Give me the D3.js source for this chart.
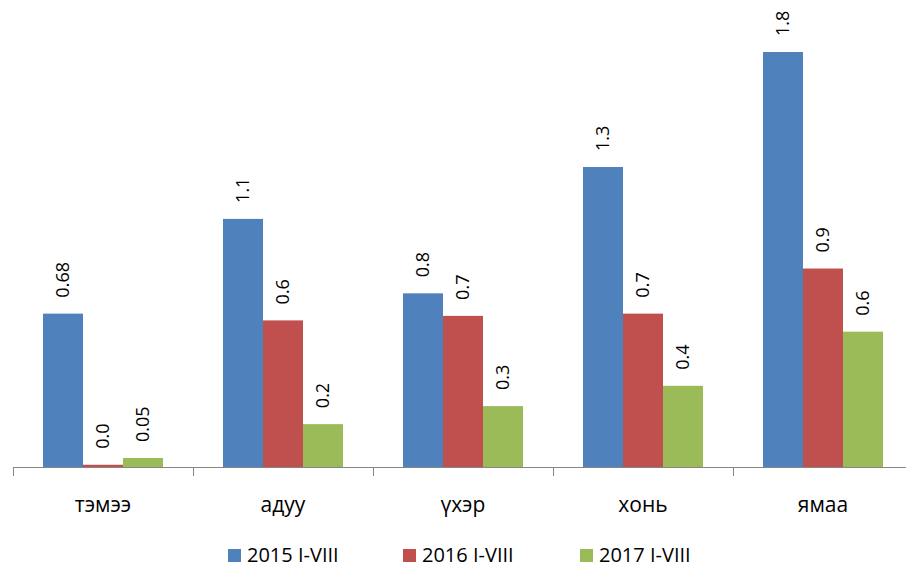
<!DOCTYPE html>
<html>
<head>
<meta charset="utf-8">
<script src="https://cdn.jsdelivr.net/npm/d3@7"></script>
<style>
  body { margin: 0; background: #fff; }
  text { font-family: "Open Sans", "Noto Sans", sans-serif; fill: #000; }
</style>
</head>
<body>
<script>
// data
var categories = ["тэмээ", "адуу", "үхэр", "хонь", "ямаа"];
var seriesNames = ["2015 I-VIII", "2016 I-VIII", "2017 I-VIII"];
var values2015 = [0.68, 1.10, 0.77, 1.33, 1.84];
var values2016 = [0.01, 0.65, 0.67, 0.68, 0.88];
var values2017 = [0.04, 0.19, 0.27, 0.36, 0.60];
var labels2015 = ["0.68", "1.1", "0.8", "1.3", "1.8"];
var labels2016 = ["0.0", "0.6", "0.7", "0.7", "0.9"];
var labels2017 = ["0.05", "0.2", "0.3", "0.4", "0.6"];
var colors = ["#4F81BD", "#C0504D", "#9BBB59"];

var series = [
    {name: seriesNames[0], values: values2015, labels: labels2015},
    {name: seriesNames[1], values: values2016, labels: labels2016},
    {name: seriesNames[2], values: values2017, labels: labels2017}
];

var width = 906, height = 567;
var baseline = 467;

var svg = d3.select("body").append("svg")
    .attr("width", width)
    .attr("height", height);

var x0 = d3.scaleBand()
    .domain(categories)
    .range([13, 913])
    .padding(0);

var x1 = d3.scaleBand()
    .domain(seriesNames)
    .range([30, 150])
    .padding(0);

var y = d3.scaleLinear()
    .domain([0, 1.84])
    .range([baseline, 52]);

function rows(d, i) {
    return series.map(function(s, k) {
        return {name: s.name, value: s.values[i], label: s.labels[i], k: k};
    });
}

var group = svg.selectAll(".cat")
    .data(categories)
    .enter()
    .append("g")
    .attr("class", "cat")
    .attr("transform", function(d) { return "translate(" + x0(d) + ",0)"; });

group.selectAll("rect")
    .data(rows)
    .enter()
    .append("rect")
    .attr("x", function(d) { return x1(d.name); })
    .attr("width", x1.bandwidth())
    .attr("y", function(d) { return y(d.value); })
    .attr("height", function(d) { return baseline - y(d.value); })
    .attr("fill", function(d) { return colors[d.k]; });

group.selectAll(".lbl")
    .data(rows)
    .enter()
    .append("text")
    .attr("class", "lbl")
    .attr("transform", function(d) {
        return "translate(" + (x1(d.name) + x1.bandwidth() / 2 + 6) + "," + (y(d.value) - 16) + ") rotate(-90)";
    })
    .attr("text-anchor", "start")
    .style("font-size", "18px")
    .text(function(d) { return d.label; });

// x axis
var axis = svg.append("g")
    .attr("transform", "translate(0," + baseline + ")")
    .call(d3.axisBottom(x0).tickSize(0).tickFormat(""));
axis.select(".domain").attr("stroke", "#868686").attr("d", "M13,0.5H906");

var tickPos = d3.range(categories.length).map(function(i) { return 13 + i * x0.step(); });
axis.selectAll(".sep")
    .data(tickPos)
    .enter()
    .append("line")
    .attr("class", "sep")
    .attr("x1", function(d) { return d + 0.5; })
    .attr("x2", function(d) { return d + 0.5; })
    .attr("y1", 0)
    .attr("y2", 9)
    .attr("stroke", "#868686");

svg.selectAll(".catlbl")
    .data(categories)
    .enter()
    .append("text")
    .attr("class", "catlbl")
    .attr("x", function(d) { return x0(d) + x0.bandwidth() / 2; })
    .attr("y", 512)
    .attr("text-anchor", "middle")
    .style("font-size", "21px")
    .text(function(d) { return d; });

// legend
var legendX = [228, 403, 580];
var legend = svg.selectAll(".leg")
    .data(seriesNames)
    .enter()
    .append("g")
    .attr("class", "leg")
    .attr("transform", function(d, i) { return "translate(" + legendX[i] + ",549)"; });

legend.append("rect")
    .attr("width", 13)
    .attr("height", 13)
    .attr("fill", function(d, i) { return colors[i]; });

legend.append("text")
    .attr("x", 19)
    .attr("y", 13)
    .style("font-size", "20px")
    .text(function(d) { return d; });
</script>
</body>
</html>
